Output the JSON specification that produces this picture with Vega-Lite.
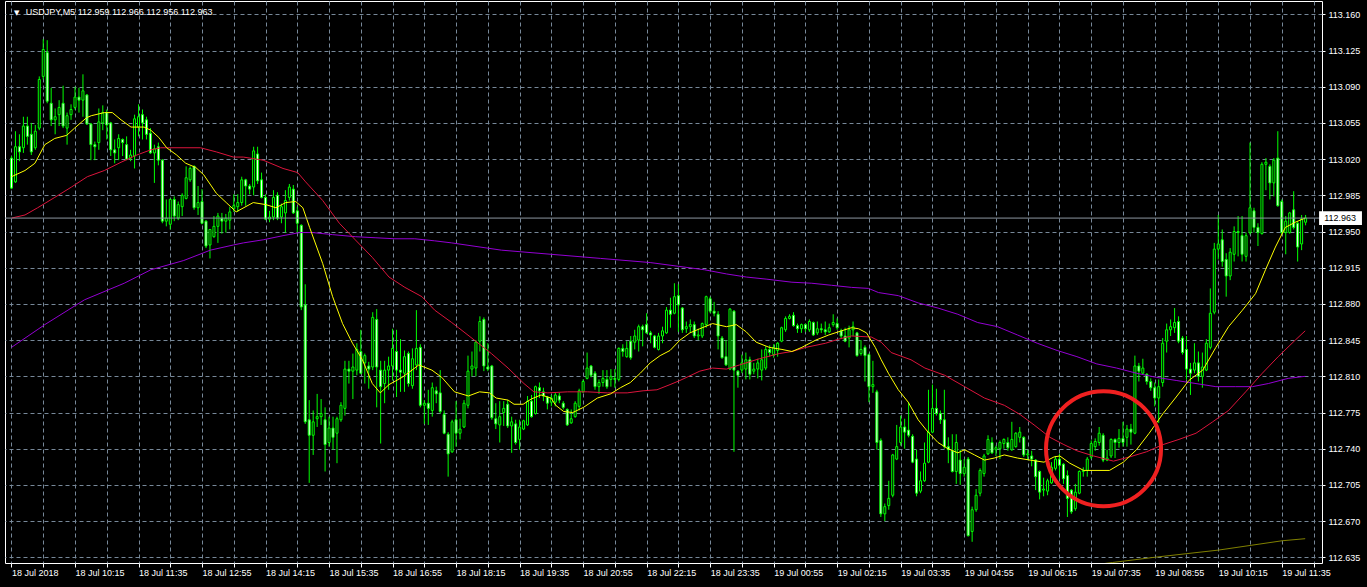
{
"$schema":"https://vega.github.io/schema/vega-lite/v6.json",
"width":1317,"height":562,"autosize":"none",
"padding":{"left":5,"top":1,"right":45,"bottom":24},
"background":"#000000",
"config":{"view":{"stroke":"#ffffff","strokeWidth":1,"fill":"#000000"},"axis":{"domain":false}},
"datasets":{
"k":[
{"i":0,"o":113.021,"h":113.023,"l":112.991,"c":112.992},
{"i":1,"o":112.998,"h":113.047,"l":112.997,"c":113.032},
{"i":2,"o":113.032,"h":113.044,"l":113.018,"c":113.027},
{"i":3,"o":113.031,"h":113.061,"l":113.026,"c":113.052},
{"i":4,"o":113.052,"h":113.061,"l":113.034,"c":113.042},
{"i":5,"o":113.044,"h":113.055,"l":113.024,"c":113.027},
{"i":6,"o":113.031,"h":113.053,"l":113.029,"c":113.047},
{"i":7,"o":113.050,"h":113.100,"l":113.048,"c":113.097},
{"i":8,"o":113.100,"h":113.136,"l":113.097,"c":113.126},
{"i":9,"o":113.123,"h":113.135,"l":113.074,"c":113.076},
{"i":10,"o":113.074,"h":113.089,"l":113.052,"c":113.058},
{"i":11,"o":113.058,"h":113.069,"l":113.044,"c":113.061},
{"i":12,"o":113.063,"h":113.077,"l":113.052,"c":113.070},
{"i":13,"o":113.074,"h":113.091,"l":113.050,"c":113.052},
{"i":14,"o":113.050,"h":113.065,"l":113.034,"c":113.062},
{"i":15,"o":113.063,"h":113.073,"l":113.058,"c":113.068},
{"i":16,"o":113.070,"h":113.090,"l":113.068,"c":113.080},
{"i":17,"o":113.080,"h":113.089,"l":113.065,"c":113.077},
{"i":18,"o":113.077,"h":113.102,"l":113.061,"c":113.086},
{"i":19,"o":113.082,"h":113.083,"l":113.053,"c":113.054},
{"i":20,"o":113.054,"h":113.055,"l":113.019,"c":113.034},
{"i":21,"o":113.034,"h":113.037,"l":113.019,"c":113.032},
{"i":22,"o":113.036,"h":113.069,"l":113.029,"c":113.056},
{"i":23,"o":113.055,"h":113.072,"l":113.048,"c":113.065},
{"i":24,"o":113.065,"h":113.068,"l":113.039,"c":113.053},
{"i":25,"o":113.055,"h":113.056,"l":113.023,"c":113.029},
{"i":26,"o":113.029,"h":113.039,"l":113.016,"c":113.026},
{"i":27,"o":113.031,"h":113.044,"l":113.019,"c":113.040},
{"i":28,"o":113.039,"h":113.040,"l":113.023,"c":113.036},
{"i":29,"o":113.034,"h":113.042,"l":113.019,"c":113.020},
{"i":30,"o":113.021,"h":113.029,"l":113.018,"c":113.024},
{"i":31,"o":113.023,"h":113.063,"l":113.011,"c":113.059},
{"i":32,"o":113.051,"h":113.073,"l":113.042,"c":113.061},
{"i":33,"o":113.063,"h":113.068,"l":113.039,"c":113.055},
{"i":34,"o":113.058,"h":113.061,"l":113.039,"c":113.044},
{"i":35,"o":113.045,"h":113.050,"l":113.025,"c":113.026},
{"i":36,"o":113.026,"h":113.034,"l":112.997,"c":113.030},
{"i":37,"o":113.032,"h":113.036,"l":113.014,"c":113.019},
{"i":38,"o":113.019,"h":113.020,"l":112.958,"c":112.960},
{"i":39,"o":112.960,"h":112.981,"l":112.955,"c":112.963},
{"i":40,"o":112.957,"h":112.982,"l":112.952,"c":112.981},
{"i":41,"o":112.981,"h":112.984,"l":112.960,"c":112.965},
{"i":42,"o":112.963,"h":112.979,"l":112.961,"c":112.976},
{"i":43,"o":112.974,"h":112.987,"l":112.965,"c":112.985},
{"i":44,"o":112.982,"h":113.013,"l":112.981,"c":113.002},
{"i":45,"o":113.000,"h":113.013,"l":112.998,"c":113.011},
{"i":46,"o":113.013,"h":113.014,"l":112.971,"c":112.973},
{"i":47,"o":112.973,"h":112.994,"l":112.966,"c":112.978},
{"i":48,"o":112.979,"h":112.991,"l":112.957,"c":112.958},
{"i":49,"o":112.960,"h":112.961,"l":112.934,"c":112.936},
{"i":50,"o":112.937,"h":112.952,"l":112.924,"c":112.952},
{"i":51,"o":112.945,"h":112.965,"l":112.944,"c":112.955},
{"i":52,"o":112.955,"h":112.968,"l":112.939,"c":112.965},
{"i":53,"o":112.963,"h":112.968,"l":112.948,"c":112.960},
{"i":54,"o":112.960,"h":112.967,"l":112.949,"c":112.963},
{"i":55,"o":112.961,"h":112.974,"l":112.952,"c":112.969},
{"i":56,"o":112.972,"h":112.986,"l":112.969,"c":112.975},
{"i":57,"o":112.974,"h":112.986,"l":112.969,"c":112.978},
{"i":58,"o":112.978,"h":113.003,"l":112.975,"c":113.000},
{"i":59,"o":113.000,"h":113.001,"l":112.975,"c":112.994},
{"i":60,"o":112.994,"h":112.996,"l":112.986,"c":112.991},
{"i":61,"o":112.993,"h":113.032,"l":112.985,"c":113.028},
{"i":62,"o":113.025,"h":113.032,"l":112.996,"c":112.999},
{"i":63,"o":113.000,"h":113.007,"l":112.982,"c":112.983},
{"i":64,"o":112.983,"h":112.986,"l":112.961,"c":112.962},
{"i":65,"o":112.962,"h":112.970,"l":112.959,"c":112.964},
{"i":66,"o":112.964,"h":112.990,"l":112.961,"c":112.983},
{"i":67,"o":112.985,"h":112.988,"l":112.961,"c":112.963},
{"i":68,"o":112.964,"h":112.977,"l":112.958,"c":112.974},
{"i":69,"o":112.968,"h":112.990,"l":112.949,"c":112.980},
{"i":70,"o":112.983,"h":112.996,"l":112.980,"c":112.993},
{"i":71,"o":112.991,"h":112.995,"l":112.967,"c":112.968},
{"i":72,"o":112.970,"h":112.974,"l":112.949,"c":112.958},
{"i":73,"o":112.956,"h":112.957,"l":112.874,"c":112.877},
{"i":74,"o":112.879,"h":112.899,"l":112.764,"c":112.766},
{"i":75,"o":112.768,"h":112.787,"l":112.707,"c":112.753},
{"i":76,"o":112.753,"h":112.777,"l":112.734,"c":112.766},
{"i":77,"o":112.769,"h":112.793,"l":112.761,"c":112.771},
{"i":78,"o":112.771,"h":112.788,"l":112.763,"c":112.774},
{"i":79,"o":112.768,"h":112.780,"l":112.718,"c":112.744},
{"i":80,"o":112.746,"h":112.771,"l":112.742,"c":112.760},
{"i":81,"o":112.760,"h":112.771,"l":112.739,"c":112.751},
{"i":82,"o":112.755,"h":112.771,"l":112.726,"c":112.769},
{"i":83,"o":112.768,"h":112.785,"l":112.766,"c":112.782},
{"i":84,"o":112.779,"h":112.825,"l":112.772,"c":112.817},
{"i":85,"o":112.817,"h":112.825,"l":112.803,"c":112.815},
{"i":86,"o":112.815,"h":112.832,"l":112.788,"c":112.819},
{"i":87,"o":112.816,"h":112.842,"l":112.811,"c":112.836},
{"i":88,"o":112.834,"h":112.855,"l":112.812,"c":112.813},
{"i":89,"o":112.823,"h":112.832,"l":112.803,"c":112.830},
{"i":90,"o":112.820,"h":112.824,"l":112.798,"c":112.817},
{"i":91,"o":112.819,"h":112.872,"l":112.816,"c":112.867},
{"i":92,"o":112.865,"h":112.875,"l":112.780,"c":112.819},
{"i":93,"o":112.816,"h":112.825,"l":112.745,"c":112.800},
{"i":94,"o":112.803,"h":112.825,"l":112.784,"c":112.816},
{"i":95,"o":112.816,"h":112.829,"l":112.797,"c":112.820},
{"i":96,"o":112.820,"h":112.856,"l":112.806,"c":112.837},
{"i":97,"o":112.834,"h":112.855,"l":112.790,"c":112.816},
{"i":98,"o":112.816,"h":112.846,"l":112.795,"c":112.814},
{"i":99,"o":112.813,"h":112.835,"l":112.795,"c":112.829},
{"i":100,"o":112.832,"h":112.834,"l":112.800,"c":112.803},
{"i":101,"o":112.801,"h":112.837,"l":112.798,"c":112.827},
{"i":102,"o":112.821,"h":112.874,"l":112.816,"c":112.837},
{"i":103,"o":112.838,"h":112.841,"l":112.780,"c":112.782},
{"i":104,"o":112.782,"h":112.787,"l":112.764,"c":112.784},
{"i":105,"o":112.784,"h":112.797,"l":112.763,"c":112.779},
{"i":106,"o":112.777,"h":112.804,"l":112.771,"c":112.799},
{"i":107,"o":112.796,"h":112.800,"l":112.784,"c":112.793},
{"i":108,"o":112.794,"h":112.816,"l":112.774,"c":112.776},
{"i":109,"o":112.773,"h":112.777,"l":112.754,"c":112.755},
{"i":110,"o":112.754,"h":112.756,"l":112.713,"c":112.735},
{"i":111,"o":112.737,"h":112.768,"l":112.736,"c":112.766},
{"i":112,"o":112.768,"h":112.786,"l":112.742,"c":112.755},
{"i":113,"o":112.755,"h":112.769,"l":112.749,"c":112.759},
{"i":114,"o":112.761,"h":112.787,"l":112.760,"c":112.784},
{"i":115,"o":112.782,"h":112.830,"l":112.779,"c":112.815},
{"i":116,"o":112.817,"h":112.834,"l":112.810,"c":112.820},
{"i":117,"o":112.818,"h":112.845,"l":112.810,"c":112.843},
{"i":118,"o":112.844,"h":112.868,"l":112.834,"c":112.863},
{"i":119,"o":112.865,"h":112.867,"l":112.815,"c":112.820},
{"i":120,"o":112.819,"h":112.842,"l":112.815,"c":112.817},
{"i":121,"o":112.820,"h":112.821,"l":112.768,"c":112.770},
{"i":122,"o":112.769,"h":112.784,"l":112.759,"c":112.764},
{"i":123,"o":112.763,"h":112.786,"l":112.746,"c":112.771},
{"i":124,"o":112.775,"h":112.786,"l":112.762,"c":112.779},
{"i":125,"o":112.783,"h":112.787,"l":112.760,"c":112.762},
{"i":126,"o":112.762,"h":112.771,"l":112.736,"c":112.766},
{"i":127,"o":112.764,"h":112.768,"l":112.744,"c":112.746},
{"i":128,"o":112.749,"h":112.768,"l":112.739,"c":112.761},
{"i":129,"o":112.759,"h":112.768,"l":112.758,"c":112.767},
{"i":130,"o":112.763,"h":112.791,"l":112.762,"c":112.786},
{"i":131,"o":112.786,"h":112.792,"l":112.770,"c":112.771},
{"i":132,"o":112.774,"h":112.801,"l":112.773,"c":112.800},
{"i":133,"o":112.799,"h":112.804,"l":112.789,"c":112.796},
{"i":134,"o":112.795,"h":112.799,"l":112.786,"c":112.791},
{"i":135,"o":112.790,"h":112.791,"l":112.778,"c":112.784},
{"i":136,"o":112.785,"h":112.792,"l":112.781,"c":112.789},
{"i":137,"o":112.785,"h":112.794,"l":112.781,"c":112.792},
{"i":138,"o":112.791,"h":112.794,"l":112.784,"c":112.787},
{"i":139,"o":112.784,"h":112.786,"l":112.778,"c":112.780},
{"i":140,"o":112.778,"h":112.779,"l":112.762,"c":112.763},
{"i":141,"o":112.765,"h":112.778,"l":112.764,"c":112.769},
{"i":142,"o":112.771,"h":112.786,"l":112.770,"c":112.784},
{"i":143,"o":112.781,"h":112.798,"l":112.777,"c":112.796},
{"i":144,"o":112.795,"h":112.807,"l":112.794,"c":112.805},
{"i":145,"o":112.808,"h":112.833,"l":112.807,"c":112.818},
{"i":146,"o":112.820,"h":112.821,"l":112.809,"c":112.811},
{"i":147,"o":112.813,"h":112.815,"l":112.797,"c":112.800},
{"i":148,"o":112.800,"h":112.807,"l":112.793,"c":112.804},
{"i":149,"o":112.804,"h":112.816,"l":112.800,"c":112.808},
{"i":150,"o":112.807,"h":112.816,"l":112.798,"c":112.800},
{"i":151,"o":112.807,"h":112.817,"l":112.800,"c":112.810},
{"i":152,"o":112.808,"h":112.817,"l":112.799,"c":112.807},
{"i":153,"o":112.807,"h":112.838,"l":112.805,"c":112.837},
{"i":154,"o":112.837,"h":112.841,"l":112.829,"c":112.834},
{"i":155,"o":112.829,"h":112.844,"l":112.828,"c":112.837},
{"i":156,"o":112.844,"h":112.849,"l":112.826,"c":112.828},
{"i":157,"o":112.843,"h":112.855,"l":112.836,"c":112.849},
{"i":158,"o":112.845,"h":112.860,"l":112.834,"c":112.858},
{"i":159,"o":112.858,"h":112.860,"l":112.839,"c":112.855},
{"i":160,"o":112.860,"h":112.871,"l":112.851,"c":112.852},
{"i":161,"o":112.852,"h":112.854,"l":112.842,"c":112.850},
{"i":162,"o":112.849,"h":112.850,"l":112.837,"c":112.838},
{"i":163,"o":112.836,"h":112.852,"l":112.835,"c":112.849},
{"i":164,"o":112.849,"h":112.858,"l":112.842,"c":112.854},
{"i":165,"o":112.852,"h":112.877,"l":112.851,"c":112.874},
{"i":166,"o":112.874,"h":112.886,"l":112.857,"c":112.870},
{"i":167,"o":112.871,"h":112.900,"l":112.870,"c":112.887},
{"i":168,"o":112.888,"h":112.899,"l":112.853,"c":112.879},
{"i":169,"o":112.876,"h":112.877,"l":112.852,"c":112.855},
{"i":170,"o":112.856,"h":112.863,"l":112.852,"c":112.858},
{"i":171,"o":112.858,"h":112.865,"l":112.852,"c":112.860},
{"i":172,"o":112.860,"h":112.863,"l":112.847,"c":112.849},
{"i":173,"o":112.849,"h":112.856,"l":112.845,"c":112.850},
{"i":174,"o":112.849,"h":112.862,"l":112.847,"c":112.861},
{"i":175,"o":112.860,"h":112.888,"l":112.857,"c":112.887},
{"i":176,"o":112.885,"h":112.887,"l":112.871,"c":112.873},
{"i":177,"o":112.873,"h":112.882,"l":112.868,"c":112.871},
{"i":178,"o":112.870,"h":112.873,"l":112.836,"c":112.849},
{"i":179,"o":112.847,"h":112.849,"l":112.827,"c":112.828},
{"i":180,"o":112.829,"h":112.845,"l":112.820,"c":112.821},
{"i":181,"o":112.817,"h":112.876,"l":112.816,"c":112.875},
{"i":182,"o":112.873,"h":112.874,"l":112.737,"c":112.816},
{"i":183,"o":112.815,"h":112.816,"l":112.799,"c":112.811},
{"i":184,"o":112.816,"h":112.831,"l":112.813,"c":112.823},
{"i":185,"o":112.817,"h":112.833,"l":112.807,"c":112.826},
{"i":186,"o":112.826,"h":112.829,"l":112.807,"c":112.812},
{"i":187,"o":112.815,"h":112.823,"l":112.812,"c":112.817},
{"i":188,"o":112.817,"h":112.827,"l":112.808,"c":112.823},
{"i":189,"o":112.816,"h":112.836,"l":112.806,"c":112.826},
{"i":190,"o":112.818,"h":112.839,"l":112.816,"c":112.836},
{"i":191,"o":112.836,"h":112.840,"l":112.829,"c":112.833},
{"i":192,"o":112.831,"h":112.841,"l":112.828,"c":112.838},
{"i":193,"o":112.835,"h":112.843,"l":112.829,"c":112.842},
{"i":194,"o":112.844,"h":112.858,"l":112.843,"c":112.857},
{"i":195,"o":112.855,"h":112.868,"l":112.853,"c":112.866},
{"i":196,"o":112.866,"h":112.870,"l":112.865,"c":112.868},
{"i":197,"o":112.869,"h":112.872,"l":112.858,"c":112.859},
{"i":198,"o":112.859,"h":112.861,"l":112.852,"c":112.856},
{"i":199,"o":112.856,"h":112.861,"l":112.852,"c":112.860},
{"i":200,"o":112.860,"h":112.861,"l":112.853,"c":112.856},
{"i":201,"o":112.855,"h":112.865,"l":112.853,"c":112.863},
{"i":202,"o":112.862,"h":112.863,"l":112.849,"c":112.850},
{"i":203,"o":112.852,"h":112.863,"l":112.850,"c":112.856},
{"i":204,"o":112.856,"h":112.861,"l":112.852,"c":112.855},
{"i":205,"o":112.855,"h":112.863,"l":112.850,"c":112.853},
{"i":206,"o":112.853,"h":112.861,"l":112.852,"c":112.857},
{"i":207,"o":112.860,"h":112.870,"l":112.858,"c":112.862},
{"i":208,"o":112.861,"h":112.866,"l":112.855,"c":112.857},
{"i":209,"o":112.854,"h":112.856,"l":112.847,"c":112.849},
{"i":210,"o":112.849,"h":112.857,"l":112.843,"c":112.844},
{"i":211,"o":112.847,"h":112.859,"l":112.838,"c":112.855},
{"i":212,"o":112.855,"h":112.863,"l":112.849,"c":112.858},
{"i":213,"o":112.852,"h":112.853,"l":112.829,"c":112.830},
{"i":214,"o":112.832,"h":112.845,"l":112.830,"c":112.836},
{"i":215,"o":112.838,"h":112.840,"l":112.805,"c":112.830},
{"i":216,"o":112.831,"h":112.832,"l":112.785,"c":112.800},
{"i":217,"o":112.800,"h":112.825,"l":112.794,"c":112.802},
{"i":218,"o":112.795,"h":112.797,"l":112.739,"c":112.746},
{"i":219,"o":112.748,"h":112.750,"l":112.674,"c":112.677},
{"i":220,"o":112.677,"h":112.687,"l":112.670,"c":112.684},
{"i":221,"o":112.685,"h":112.709,"l":112.681,"c":112.692},
{"i":222,"o":112.695,"h":112.735,"l":112.693,"c":112.734},
{"i":223,"o":112.730,"h":112.763,"l":112.729,"c":112.742},
{"i":224,"o":112.746,"h":112.772,"l":112.743,"c":112.761},
{"i":225,"o":112.761,"h":112.769,"l":112.740,"c":112.756},
{"i":226,"o":112.758,"h":112.785,"l":112.751,"c":112.753},
{"i":227,"o":112.752,"h":112.754,"l":112.726,"c":112.727},
{"i":228,"o":112.730,"h":112.739,"l":112.694,"c":112.697},
{"i":229,"o":112.699,"h":112.718,"l":112.697,"c":112.709},
{"i":230,"o":112.709,"h":112.746,"l":112.708,"c":112.726},
{"i":231,"o":112.727,"h":112.797,"l":112.726,"c":112.756},
{"i":232,"o":112.756,"h":112.802,"l":112.755,"c":112.779},
{"i":233,"o":112.779,"h":112.798,"l":112.772,"c":112.774},
{"i":234,"o":112.774,"h":112.777,"l":112.764,"c":112.768},
{"i":235,"o":112.768,"h":112.797,"l":112.740,"c":112.742},
{"i":236,"o":112.742,"h":112.751,"l":112.726,"c":112.739},
{"i":237,"o":112.738,"h":112.754,"l":112.717,"c":112.718},
{"i":238,"o":112.718,"h":112.754,"l":112.706,"c":112.746},
{"i":239,"o":112.729,"h":112.739,"l":112.705,"c":112.716},
{"i":240,"o":112.716,"h":112.730,"l":112.713,"c":112.722},
{"i":241,"o":112.730,"h":112.732,"l":112.655,"c":112.656},
{"i":242,"o":112.660,"h":112.684,"l":112.650,"c":112.681},
{"i":243,"o":112.681,"h":112.701,"l":112.679,"c":112.695},
{"i":244,"o":112.697,"h":112.721,"l":112.694,"c":112.719},
{"i":245,"o":112.716,"h":112.735,"l":112.713,"c":112.733},
{"i":246,"o":112.735,"h":112.753,"l":112.734,"c":112.749},
{"i":247,"o":112.746,"h":112.751,"l":112.735,"c":112.736},
{"i":248,"o":112.739,"h":112.743,"l":112.733,"c":112.741},
{"i":249,"o":112.740,"h":112.748,"l":112.730,"c":112.746},
{"i":250,"o":112.745,"h":112.750,"l":112.740,"c":112.749},
{"i":251,"o":112.746,"h":112.751,"l":112.738,"c":112.741},
{"i":252,"o":112.739,"h":112.766,"l":112.738,"c":112.749},
{"i":253,"o":112.742,"h":112.756,"l":112.741,"c":112.755},
{"i":254,"o":112.751,"h":112.761,"l":112.746,"c":112.756},
{"i":255,"o":112.751,"h":112.752,"l":112.732,"c":112.734},
{"i":256,"o":112.734,"h":112.739,"l":112.729,"c":112.735},
{"i":257,"o":112.733,"h":112.738,"l":112.723,"c":112.730},
{"i":258,"o":112.729,"h":112.730,"l":112.700,"c":112.713},
{"i":259,"o":112.718,"h":112.719,"l":112.691,"c":112.698},
{"i":260,"o":112.700,"h":112.712,"l":112.694,"c":112.701},
{"i":261,"o":112.699,"h":112.711,"l":112.695,"c":112.709},
{"i":262,"o":112.707,"h":112.727,"l":112.706,"c":112.722},
{"i":263,"o":112.721,"h":112.733,"l":112.719,"c":112.730},
{"i":264,"o":112.730,"h":112.735,"l":112.711,"c":112.724},
{"i":265,"o":112.725,"h":112.726,"l":112.706,"c":112.711},
{"i":266,"o":112.714,"h":112.719,"l":112.674,"c":112.692},
{"i":267,"o":112.700,"h":112.701,"l":112.677,"c":112.679},
{"i":268,"o":112.682,"h":112.706,"l":112.680,"c":112.698},
{"i":269,"o":112.697,"h":112.719,"l":112.696,"c":112.718},
{"i":270,"o":112.718,"h":112.722,"l":112.713,"c":112.719},
{"i":271,"o":112.719,"h":112.732,"l":112.713,"c":112.730},
{"i":272,"o":112.732,"h":112.748,"l":112.730,"c":112.745},
{"i":273,"o":112.742,"h":112.750,"l":112.738,"c":112.747},
{"i":274,"o":112.746,"h":112.761,"l":112.743,"c":112.755},
{"i":275,"o":112.753,"h":112.755,"l":112.727,"c":112.729},
{"i":276,"o":112.729,"h":112.739,"l":112.728,"c":112.731},
{"i":277,"o":112.733,"h":112.750,"l":112.731,"c":112.749},
{"i":278,"o":112.749,"h":112.750,"l":112.731,"c":112.746},
{"i":279,"o":112.746,"h":112.759,"l":112.741,"c":112.750},
{"i":280,"o":112.750,"h":112.766,"l":112.742,"c":112.746},
{"i":281,"o":112.751,"h":112.763,"l":112.742,"c":112.759},
{"i":282,"o":112.759,"h":112.764,"l":112.744,"c":112.756},
{"i":283,"o":112.755,"h":112.830,"l":112.754,"c":112.820},
{"i":284,"o":112.820,"h":112.823,"l":112.805,"c":112.815},
{"i":285,"o":112.813,"h":112.827,"l":112.812,"c":112.818},
{"i":286,"o":112.812,"h":112.813,"l":112.802,"c":112.805},
{"i":287,"o":112.805,"h":112.808,"l":112.796,"c":112.799},
{"i":288,"o":112.799,"h":112.804,"l":112.781,"c":112.789},
{"i":289,"o":112.789,"h":112.807,"l":112.765,"c":112.800},
{"i":290,"o":112.804,"h":112.847,"l":112.800,"c":112.842},
{"i":291,"o":112.844,"h":112.861,"l":112.833,"c":112.855},
{"i":292,"o":112.855,"h":112.865,"l":112.849,"c":112.858},
{"i":293,"o":112.857,"h":112.876,"l":112.852,"c":112.862},
{"i":294,"o":112.863,"h":112.868,"l":112.842,"c":112.844},
{"i":295,"o":112.847,"h":112.849,"l":112.831,"c":112.833},
{"i":296,"o":112.836,"h":112.849,"l":112.807,"c":112.817},
{"i":297,"o":112.817,"h":112.823,"l":112.792,"c":112.813},
{"i":298,"o":112.816,"h":112.842,"l":112.813,"c":112.823},
{"i":299,"o":112.823,"h":112.834,"l":112.805,"c":112.810},
{"i":300,"o":112.810,"h":112.833,"l":112.799,"c":112.819},
{"i":301,"o":112.816,"h":112.846,"l":112.815,"c":112.842},
{"i":302,"o":112.838,"h":112.895,"l":112.836,"c":112.871},
{"i":303,"o":112.872,"h":112.939,"l":112.870,"c":112.933},
{"i":304,"o":112.933,"h":112.966,"l":112.923,"c":112.938},
{"i":305,"o":112.942,"h":112.952,"l":112.916,"c":112.921},
{"i":306,"o":112.923,"h":112.929,"l":112.887,"c":112.907},
{"i":307,"o":112.907,"h":112.934,"l":112.903,"c":112.930},
{"i":308,"o":112.928,"h":112.955,"l":112.921,"c":112.950},
{"i":309,"o":112.950,"h":112.965,"l":112.926,"c":112.949},
{"i":310,"o":112.946,"h":112.965,"l":112.921,"c":112.928},
{"i":311,"o":112.926,"h":112.949,"l":112.921,"c":112.946},
{"i":312,"o":112.949,"h":113.036,"l":112.947,"c":112.973},
{"i":313,"o":112.970,"h":112.973,"l":112.949,"c":112.954},
{"i":314,"o":112.954,"h":112.958,"l":112.936,"c":112.949},
{"i":315,"o":112.948,"h":113.017,"l":112.947,"c":113.015},
{"i":316,"o":113.015,"h":113.021,"l":112.990,"c":113.017},
{"i":317,"o":113.013,"h":113.015,"l":112.981,"c":112.997},
{"i":318,"o":112.997,"h":113.021,"l":112.984,"c":113.019},
{"i":319,"o":113.021,"h":113.047,"l":112.974,"c":112.975},
{"i":320,"o":112.979,"h":112.981,"l":112.947,"c":112.949},
{"i":321,"o":112.949,"h":112.965,"l":112.928,"c":112.960},
{"i":322,"o":112.949,"h":112.969,"l":112.948,"c":112.968},
{"i":323,"o":112.971,"h":112.989,"l":112.952,"c":112.954},
{"i":324,"o":112.958,"h":112.960,"l":112.921,"c":112.935},
{"i":325,"o":112.938,"h":112.966,"l":112.932,"c":112.962},
{"i":326,"o":112.959,"h":112.966,"l":112.956,"c":112.963}
],
"ma":[
{"s":"m","i":0,"p":112.838},{"s":"m","i":8.4,"p":112.860},{"s":"m","i":18.4,"p":112.884},{"s":"m","i":28.4,"p":112.900},{"s":"m","i":35.1,"p":112.913},{"s":"m","i":43.4,"p":112.922},{"s":"m","i":50.1,"p":112.932},{"s":"m","i":55.9,"p":112.937},{"s":"m","i":58.4,"p":112.939},{"s":"m","i":63.4,"p":112.942},{"s":"m","i":68.4,"p":112.946},{"s":"m","i":72.6,"p":112.949},{"s":"m","i":75.9,"p":112.949},{"s":"m","i":80.9,"p":112.947},{"s":"m","i":86.6,"p":112.945},{"s":"m","i":91.6,"p":112.944},{"s":"m","i":96.6,"p":112.943},{"s":"m","i":101.6,"p":112.943},{"s":"m","i":106.6,"p":112.941},{"s":"m","i":110.9,"p":112.939},{"s":"m","i":123.4,"p":112.932},{"s":"m","i":135.9,"p":112.928},{"s":"m","i":148.4,"p":112.924},{"s":"m","i":160.9,"p":112.920},{"s":"m","i":174.6,"p":112.913},{"s":"m","i":180.1,"p":112.909},{"s":"m","i":185.1,"p":112.906},{"s":"m","i":190.1,"p":112.904},{"s":"m","i":196.6,"p":112.901},{"s":"m","i":201.6,"p":112.900},{"s":"m","i":206.6,"p":112.898},{"s":"m","i":211.6,"p":112.896},{"s":"m","i":215.9,"p":112.895},{"s":"m","i":218.4,"p":112.891},{"s":"m","i":223.4,"p":112.888},{"s":"m","i":228.4,"p":112.881},{"s":"m","i":233.4,"p":112.876},{"s":"m","i":238.4,"p":112.870},{"s":"m","i":243.4,"p":112.862},{"s":"m","i":248.4,"p":112.858},{"s":"m","i":253.4,"p":112.850},{"s":"m","i":258.4,"p":112.842},{"s":"m","i":263.4,"p":112.835},{"s":"m","i":268.4,"p":112.829},{"s":"m","i":273.4,"p":112.822},{"s":"m","i":278.4,"p":112.818},{"s":"m","i":283.4,"p":112.813},{"s":"m","i":288.4,"p":112.809},{"s":"m","i":293.4,"p":112.806},{"s":"m","i":298.4,"p":112.803},{"s":"m","i":303.4,"p":112.800},{"s":"m","i":308.4,"p":112.800},{"s":"m","i":312.6,"p":112.800},{"s":"m","i":316.6,"p":112.803},{"s":"m","i":321.6,"p":112.808},{"s":"m","i":325.9,"p":112.810},
{"s":"r","i":0,"p":112.963},{"s":"r","i":3.4,"p":112.966},{"s":"r","i":6.6,"p":112.973},{"s":"r","i":10.9,"p":112.983},{"s":"r","i":15.1,"p":112.993},{"s":"r","i":19.1,"p":113.003},{"s":"r","i":23.4,"p":113.009},{"s":"r","i":27.6,"p":113.017},{"s":"r","i":31.6,"p":113.024},{"s":"r","i":35.1,"p":113.029},{"s":"r","i":37.6,"p":113.031},{"s":"r","i":47.6,"p":113.031},{"s":"r","i":51.6,"p":113.027},{"s":"r","i":55.9,"p":113.022},{"s":"r","i":58.4,"p":113.022},{"s":"r","i":63.4,"p":113.019},{"s":"r","i":68.4,"p":113.011},{"s":"r","i":72.1,"p":113.007},{"s":"r","i":74.1,"p":112.998},{"s":"r","i":78.4,"p":112.980},{"s":"r","i":82.6,"p":112.958},{"s":"r","i":86.6,"p":112.942},{"s":"r","i":90.9,"p":112.925},{"s":"r","i":95.1,"p":112.906},{"s":"r","i":99.1,"p":112.896},{"s":"r","i":103.4,"p":112.887},{"s":"r","i":106.6,"p":112.874},{"s":"r","i":110.9,"p":112.862},{"s":"r","i":112.6,"p":112.857},{"s":"r","i":116.6,"p":112.845},{"s":"r","i":120.9,"p":112.832},{"s":"r","i":125.1,"p":112.818},{"s":"r","i":129.1,"p":112.803},{"s":"r","i":131.6,"p":112.795},{"s":"r","i":135.1,"p":112.794},{"s":"r","i":140.1,"p":112.795},{"s":"r","i":145.1,"p":112.795},{"s":"r","i":150.1,"p":112.794},{"s":"r","i":155.1,"p":112.794},{"s":"r","i":159.1,"p":112.796},{"s":"r","i":162.6,"p":112.797},{"s":"r","i":165.9,"p":112.802},{"s":"r","i":168.4,"p":112.806},{"s":"r","i":173.4,"p":112.815},{"s":"r","i":176.6,"p":112.818},{"s":"r","i":180.1,"p":112.817},{"s":"r","i":183.4,"p":112.821},{"s":"r","i":188.4,"p":112.827},{"s":"r","i":193.4,"p":112.832},{"s":"r","i":196.6,"p":112.834},{"s":"r","i":200.1,"p":112.838},{"s":"r","i":205.1,"p":112.842},{"s":"r","i":208.4,"p":112.846},{"s":"r","i":211.6,"p":112.849},{"s":"r","i":216.6,"p":112.848},{"s":"r","i":219.1,"p":112.843},{"s":"r","i":221.6,"p":112.833},{"s":"r","i":226.6,"p":112.826},{"s":"r","i":230.1,"p":112.818},{"s":"r","i":235.1,"p":112.811},{"s":"r","i":240.1,"p":112.800},{"s":"r","i":245.1,"p":112.789},{"s":"r","i":250.1,"p":112.782},{"s":"r","i":254.1,"p":112.773},{"s":"r","i":257.6,"p":112.763},{"s":"r","i":261.6,"p":112.751},{"s":"r","i":265.1,"p":112.744},{"s":"r","i":268.4,"p":112.738},{"s":"r","i":272.6,"p":112.733},{"s":"r","i":277.6,"p":112.728},{"s":"r","i":281.6,"p":112.732},{"s":"r","i":285.9,"p":112.737},{"s":"r","i":290.1,"p":112.744},{"s":"r","i":294.1,"p":112.749},{"s":"r","i":298.4,"p":112.755},{"s":"r","i":302.6,"p":112.766},{"s":"r","i":306.6,"p":112.777},{"s":"r","i":310.9,"p":112.795},{"s":"r","i":315.1,"p":112.813},{"s":"r","i":319.1,"p":112.829},{"s":"r","i":323.4,"p":112.845},{"s":"r","i":325.9,"p":112.854},
{"s":"y","i":0,"p":113.003},{"s":"y","i":3.4,"p":113.009},{"s":"y","i":5.9,"p":113.016},{"s":"y","i":8.4,"p":113.034},{"s":"y","i":10.9,"p":113.040},{"s":"y","i":13.9,"p":113.043},{"s":"y","i":15.9,"p":113.050},{"s":"y","i":18.9,"p":113.060},{"s":"y","i":20.1,"p":113.062},{"s":"y","i":23.4,"p":113.065},{"s":"y","i":25.4,"p":113.065},{"s":"y","i":27.6,"p":113.058},{"s":"y","i":30.1,"p":113.051},{"s":"y","i":33.4,"p":113.051},{"s":"y","i":35.1,"p":113.048},{"s":"y","i":37.1,"p":113.041},{"s":"y","i":39.1,"p":113.031},{"s":"y","i":41.6,"p":113.024},{"s":"y","i":43.9,"p":113.016},{"s":"y","i":46.4,"p":113.012},{"s":"y","i":48.4,"p":113.005},{"s":"y","i":51.6,"p":112.987},{"s":"y","i":54.1,"p":112.978},{"s":"y","i":56.6,"p":112.969},{"s":"y","i":60.9,"p":112.978},{"s":"y","i":64.1,"p":112.976},{"s":"y","i":66.6,"p":112.973},{"s":"y","i":69.1,"p":112.978},{"s":"y","i":71.6,"p":112.979},{"s":"y","i":73.4,"p":112.973},{"s":"y","i":75.1,"p":112.954},{"s":"y","i":78.4,"p":112.919},{"s":"y","i":80.9,"p":112.887},{"s":"y","i":83.4,"p":112.861},{"s":"y","i":85.9,"p":112.842},{"s":"y","i":88.4,"p":112.826},{"s":"y","i":90.9,"p":112.803},{"s":"y","i":92.9,"p":112.794},{"s":"y","i":95.1,"p":112.802},{"s":"y","i":98.4,"p":112.809},{"s":"y","i":100.9,"p":112.816},{"s":"y","i":102.6,"p":112.821},{"s":"y","i":105.9,"p":112.816},{"s":"y","i":108.4,"p":112.809},{"s":"y","i":111.6,"p":112.795},{"s":"y","i":115.1,"p":112.791},{"s":"y","i":117.9,"p":112.795},{"s":"y","i":120.4,"p":112.794},{"s":"y","i":122.1,"p":112.789},{"s":"y","i":125.1,"p":112.787},{"s":"y","i":126.6,"p":112.783},{"s":"y","i":128.9,"p":112.783},{"s":"y","i":130.9,"p":112.788},{"s":"y","i":133.4,"p":112.792},{"s":"y","i":135.9,"p":112.789},{"s":"y","i":137.1,"p":112.782},{"s":"y","i":139.1,"p":112.776},{"s":"y","i":141.4,"p":112.775},{"s":"y","i":144.1,"p":112.780},{"s":"y","i":147.6,"p":112.789},{"s":"y","i":150.9,"p":112.793},{"s":"y","i":153.4,"p":112.799},{"s":"y","i":155.9,"p":112.804},{"s":"y","i":158.4,"p":112.813},{"s":"y","i":160.9,"p":112.823},{"s":"y","i":163.4,"p":112.830},{"s":"y","i":165.9,"p":112.835},{"s":"y","i":168.4,"p":112.845},{"s":"y","i":170.9,"p":112.852},{"s":"y","i":173.4,"p":112.856},{"s":"y","i":176.6,"p":112.861},{"s":"y","i":180.1,"p":112.858},{"s":"y","i":182.6,"p":112.860},{"s":"y","i":185.1,"p":112.853},{"s":"y","i":187.6,"p":112.843},{"s":"y","i":190.9,"p":112.838},{"s":"y","i":194.1,"p":112.836},{"s":"y","i":196.6,"p":112.834},{"s":"y","i":199.1,"p":112.838},{"s":"y","i":202.6,"p":112.845},{"s":"y","i":205.9,"p":112.850},{"s":"y","i":209.1,"p":112.854},{"s":"y","i":211.6,"p":112.857},{"s":"y","i":213.4,"p":112.856},{"s":"y","i":215.4,"p":112.852},{"s":"y","i":217.6,"p":112.838},{"s":"y","i":219.1,"p":112.826},{"s":"y","i":220.9,"p":112.813},{"s":"y","i":223.4,"p":112.797},{"s":"y","i":225.9,"p":112.785},{"s":"y","i":228.4,"p":112.768},{"s":"y","i":230.9,"p":112.756},{"s":"y","i":233.4,"p":112.746},{"s":"y","i":235.9,"p":112.740},{"s":"y","i":238.4,"p":112.736},{"s":"y","i":240.1,"p":112.739},{"s":"y","i":242.6,"p":112.734},{"s":"y","i":245.1,"p":112.729},{"s":"y","i":247.6,"p":112.731},{"s":"y","i":250.1,"p":112.734},{"s":"y","i":253.4,"p":112.731},{"s":"y","i":256.6,"p":112.729},{"s":"y","i":260.1,"p":112.727},{"s":"y","i":262.6,"p":112.732},{"s":"y","i":264.1,"p":112.733},{"s":"y","i":266.6,"p":112.726},{"s":"y","i":270.1,"p":112.719},{"s":"y","i":276.6,"p":112.719},{"s":"y","i":280.1,"p":112.727},{"s":"y","i":283.4,"p":112.739},{"s":"y","i":286.6,"p":112.755},{"s":"y","i":290.1,"p":112.774},{"s":"y","i":293.4,"p":112.790},{"s":"y","i":296.6,"p":112.806},{"s":"y","i":300.1,"p":112.816},{"s":"y","i":303.4,"p":112.838},{"s":"y","i":306.6,"p":112.858},{"s":"y","i":310.1,"p":112.874},{"s":"y","i":313.4,"p":112.890},{"s":"y","i":315.9,"p":112.913},{"s":"y","i":318.4,"p":112.935},{"s":"y","i":320.9,"p":112.954},{"s":"y","i":323.4,"p":112.959},{"s":"y","i":325.9,"p":112.963},
{"s":"o","i":265,"p":112.624},{"s":"o","i":277.4,"p":112.630},{"s":"o","i":287.9,"p":112.635},{"s":"o","i":304.1,"p":112.642},{"s":"o","i":320.1,"p":112.651},{"s":"o","i":325.9,"p":112.653}
],
"circle":[{"i":275.1,"p":112.740}],
"last":[{"p":112.963,"label":"112.963"}],
"head":[{"i":3.6,"p":113.1595,"label":"USDJPY,M5  112.959 112.966 112.956 112.963"}]
},
"layer":[
{"data":{"name":"k"},"mark":{"type":"rule","color":"#00ff00","strokeWidth":1},
 "encoding":{
  "x":{"field":"i","type":"quantitative","title":null,
   "scale":{"domain":[-0.375,328.875],"nice":false,"zero":false},
   "axis":{"orient":"bottom","tickCount":500,"values":[0,8,16,24,32,40,48,56,64,72,80,88,96,104,112,120,128,136,144,152,160,168,176,184,192,200,208,216,224,232,240,248,256,264,272,280,288,296,304,312,320,328],
    "labelExpr":"datum.value % 16 != 0 ? '' : (datum.value == 0 ? '18 Jul 2018' : utcFormat(1531904100000 + datum.value * 300000, '%d %b %H:%M'))",
    "grid":true,"gridColor":"#778899","gridDash":[4,3],"gridWidth":1,"gridOpacity":1,
    "ticks":true,"tickColor":"#ffffff","tickSize":4,"tickWidth":1,
    "labelColor":"#ffffff","labelFont":"Liberation Sans","labelFontSize":9,"labelAlign":"left","labelBaseline":"top","labelPadding":1,
    "labelOverlap":false,"labelFlush":false,"labelBound":false,"domain":false}},
  "y":{"field":"l","type":"quantitative","title":null,
   "scale":{"domain":[112.6295,113.1729],"nice":false,"zero":false},
   "axis":{"orient":"right","tickCount":500,"values":[112.635,112.67,112.705,112.74,112.775,112.81,112.845,112.88,112.915,112.95,112.985,113.02,113.055,113.09,113.125,113.16],
    "format":".3f","grid":true,"gridColor":"#778899","gridDash":[4,3],"gridWidth":1,"gridOpacity":1,
    "ticks":true,"tickColor":"#ffffff","tickSize":3,"tickWidth":1,
    "labelColor":"#ffffff","labelFont":"Liberation Sans","labelFontSize":9,"labelAlign":"left","labelBaseline":"middle","labelPadding":3,
    "labelOverlap":false,"labelFlush":false,"labelBound":false,"domain":false}},
  "y2":{"field":"h"}}},
{"data":{"name":"k"},"mark":{"type":"bar","size":2,"stroke":"#00ff00","strokeWidth":1},
 "encoding":{
  "x":{"field":"i","type":"quantitative","title":null},
  "y":{"field":"o","type":"quantitative","title":null},
  "y2":{"field":"c"},
  "fill":{"condition":{"test":"datum.c < datum.o","value":"#ffffff"},"value":"#000000"}}},
{"data":{"name":"ma"},"mark":{"type":"line","strokeWidth":1,"clip":true,"interpolate":"linear"},
 "encoding":{
  "x":{"field":"i","type":"quantitative","title":null},
  "y":{"field":"p","type":"quantitative","title":null},
  "color":{"field":"s","type":"nominal","legend":null,"scale":{"domain":["m","r","y","o"],"range":["#9400d3","#dc143c","#ffff00","#808000"]}},
  "detail":{"field":"s"}}},
{"data":{"name":"last"},"mark":{"type":"rule","color":"#8c96a0","strokeWidth":1},
 "encoding":{"y":{"field":"p","type":"quantitative","title":null}}},
{"data":{"name":"circle"},"mark":{"type":"point","shape":"circle","filled":false,"stroke":"#f02020","strokeWidth":4,"size":13225,"opacity":1},
 "encoding":{
  "x":{"field":"i","type":"quantitative","title":null},
  "y":{"field":"p","type":"quantitative","title":null}}},
{"data":{"name":"last"},"mark":{"type":"rect","fill":"#ffffff","clip":false},
 "encoding":{
  "x":{"datum":329.4,"type":"quantitative"},
  "x2":{"datum":340.2},
  "y":{"datum":112.9695,"type":"quantitative"},
  "y2":{"datum":112.9563}}},
{"data":{"name":"last"},"mark":{"type":"text","color":"#000000","font":"Liberation Sans","fontSize":9,"align":"left","baseline":"middle","dx":2},
 "encoding":{
  "x":{"datum":330.2,"type":"quantitative"},
  "y":{"field":"p","type":"quantitative","title":null},
  "text":{"field":"label"}}},
{"data":{"name":"head"},"mark":{"type":"text","color":"#ffffff","font":"Liberation Sans","fontSize":9,"align":"left","baseline":"alphabetic"},
 "encoding":{
  "x":{"field":"i","type":"quantitative","title":null},
  "y":{"field":"p","type":"quantitative","title":null},
  "text":{"field":"label"}}},
{"data":{"name":"head"},"mark":{"type":"text","color":"#ffffff","font":"DejaVu Sans","fontSize":7,"align":"center","baseline":"alphabetic","text":"▼","dx":-9},
 "encoding":{
  "x":{"field":"i","type":"quantitative","title":null},
  "y":{"field":"p","type":"quantitative","title":null}}}
]
}
